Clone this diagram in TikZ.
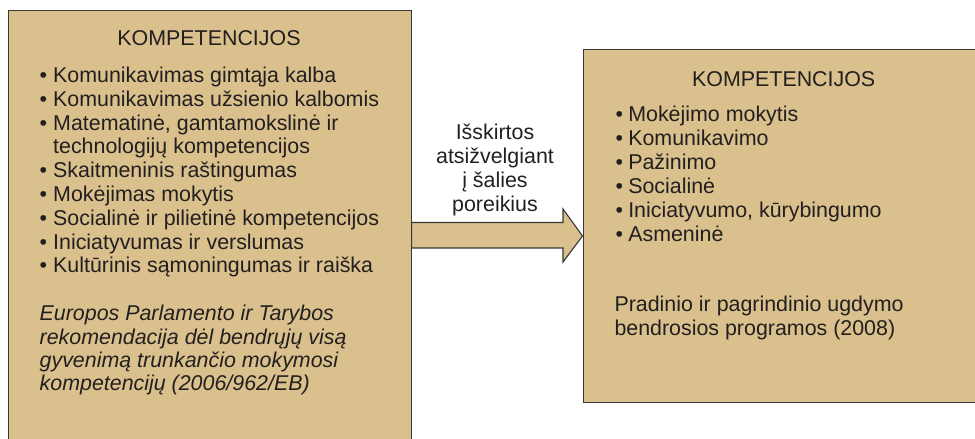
\documentclass[tikz,border=0pt]{standalone}
\usepackage{fontspec}
\setmainfont{Liberation Sans}
\definecolor{boxfill}{RGB}{217,192,140}
\definecolor{boxline}{RGB}{58,56,54}
\definecolor{textcol}{RGB}{35,31,32}
\begin{document}
\begin{tikzpicture}[x=1pt,y=-1pt,
  box/.style={draw=boxline, fill=boxfill, line width=1.1pt, inner sep=0pt},
  txt/.style={font=\fontsize{21.4}{24}\selectfont, text=textcol, inner sep=0pt},
  itx/.style={txt, font=\fontsize{21.4}{24}\selectfont\itshape}]
\useasboundingbox (0,0) rectangle (975,439);
\clip (0,0) rectangle (975,439);
% boxes
\node[box, anchor=north west, minimum width=403pt, minimum height=460pt] (L) at (7.5,9.5) {};
\node[box, anchor=north west, minimum width=450pt, minimum height=353pt] (R) at (582.5,49) {};
% block arrow from L to R
\coordinate (a1) at (L.east |- 0,222.5);
\coordinate (a2) at (563,222.5);
\coordinate (a3) at (563,209);
\coordinate (tip) at (R.west |- 0,236);
\coordinate (a5) at (563,262);
\coordinate (a6) at (563,248);
\coordinate (a7) at (L.east |- 0,248);
\draw[box] (a1) -- (a2) -- (a3) -- (tip) -- (a5) -- (a6) -- (a7) -- cycle;
% left box text
\node[txt, anchor=base] (Lt) at (209,45) {KOMPETENCIJOS};
\foreach \t [count=\i] in {
  {\makebox[13.7pt][l]{•}Komunikavimas gimtąja kalba},
  {\makebox[13.7pt][l]{•}Komunikavimas užsienio kalbomis},
  {\makebox[13.7pt][l]{•}Matematinė, gamtamokslinė ir},
  {\hspace*{13.7pt}technologijų kompetencijos},
  {\makebox[13.7pt][l]{•}Skaitmeninis raštingumas},
  {\makebox[13.7pt][l]{•}Mokėjimas mokytis},
  {\makebox[13.7pt][l]{•}Socialinė ir pilietinė kompetencijos},
  {\makebox[13.7pt][l]{•}Iniciatyvumas ir verslumas},
  {\makebox[13.7pt][l]{•}Kultūrinis sąmoningumas ir raiška}}
  \node[txt, anchor=base west] (Ll\i) at (39.3,{82.5+23.8*(\i-1)}) {\t};
\foreach \t [count=\i] in {
  {Europos Parlamento ir Tarybos},
  {rekomendacija dėl bendrųjų visą},
  {gyvenimą trunkančio mokymosi},
  {kompetencijų (2006/962/EB)}}
  \node[itx, anchor=base west] (Ls\i) at (39.5,{320.7+23.3*(\i-1)}) {\t};
% middle label
\foreach \t [count=\i] in {Išskirtos, atsižvelgiant, į šalies, poreikius}
  \node[txt, anchor=base] (M\i) at (495,{139+24*(\i-1)}) {\t};
% right box text
\node[txt, anchor=base] (Rt) at (783.7,86.7) {KOMPETENCIJOS};
\foreach \t [count=\i] in {
  {Mokėjimo mokytis},
  {Komunikavimo},
  {Pažinimo},
  {Socialinė},
  {Iniciatyvumo, kūrybingumo},
  {Asmeninė}}
  \node[txt, anchor=base west] (Rl\i) at (615.5,{121.7+24*(\i-1)}) {\makebox[12.6pt][l]{•}\t};
\node[txt, anchor=base west] (Rs1) at (614.3,311.7) {Pradinio ir pagrindinio ugdymo};
\node[txt, anchor=base west] (Rs2) at (614.3,335.2) {bendrosios programos (2008)};
\end{tikzpicture}
\end{document}
